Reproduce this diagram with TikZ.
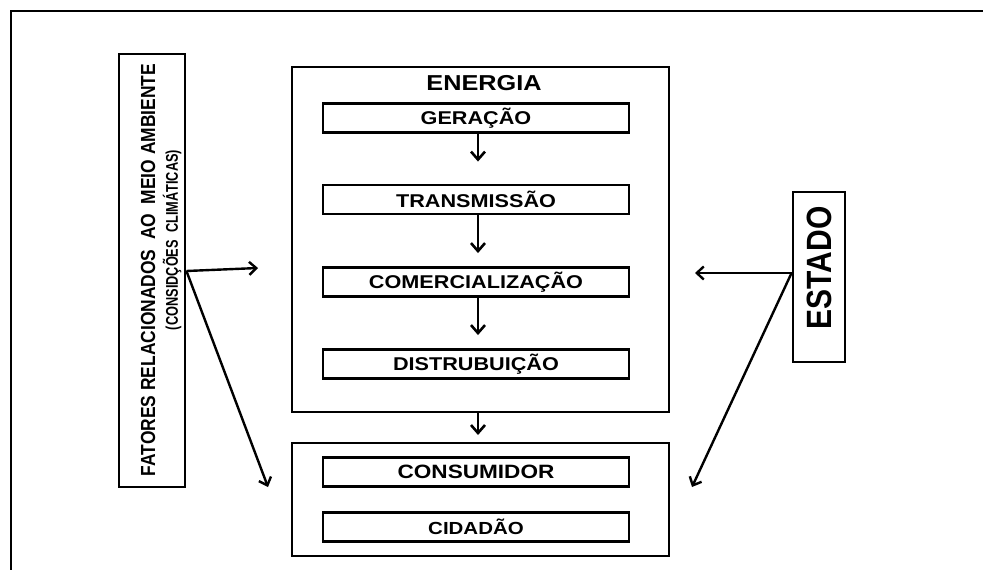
\documentclass[tikz,border=0pt]{standalone}
\usepackage{fontspec}
\setmainfont{Liberation Sans}
\usetikzlibrary{arrows.meta}
\newcommand{\hs}[1]{\scalebox{1.17}[1]{#1}}
\begin{document}
\begin{tikzpicture}[x=1pt,y=-1pt,
  box/.style={draw,line width=2.9pt,inner sep=0pt,font=\bfseries},
  inbox/.style={box,minimum width=306pt,minimum height=29pt,font=\fontsize{18.5}{20}\selectfont\bfseries},
  arr/.style={line width=2.8pt,-{Straight Barb[length=8pt,width=14pt,line width=2.6pt]}},
  sarr/.style={line width=2.4pt,-{Straight Barb[length=7pt,width=13pt,line width=2.4pt]}}]
\useasboundingbox (0,0) rectangle (983,570);
% outer frame (only top and left visible)
\coordinate (o1) at (11,575);
\coordinate (o2) at (11,11);
\coordinate (o3) at (990,11);
\draw[line width=2.9pt] (o1) -- (o2) -- (o3);
% side boxes
\node[box,minimum width=66pt,minimum height=433pt] (fat) at (152,270.5) {};
\node[rotate=90,inner sep=0pt,font=\fontsize{17.4}{18}\selectfont\bfseries] (fat1) at (148,270) {\scalebox{1}[1.17]{FATORES RELACIONADOS\ \ AO\ \ MEIO AMBIENTE}};
\node[rotate=90,inner sep=0pt,font=\fontsize{14.5}{15}\selectfont\bfseries] (fat2) at (172,240) {\scalebox{0.88}[1.17]{(CONSIDÇÕES\ \ CLIMÁTICAS)}};
\node[box,minimum width=52pt,minimum height=170pt] (est) at (819,277) {};
\node[rotate=90,inner sep=0pt,font=\fontsize{30}{32}\selectfont\bfseries] (estt) at (819,268) {\scalebox{1}[1.17]{ESTADO}};
% energia block
\node[box,minimum width=377pt,minimum height=345pt] (en) at (480.5,239.5) {};
\node[font=\fontsize{21.6}{23}\selectfont\bfseries] (ent) at (484,83) {\hs{ENERGIA}};
\node[inbox] (ger) at (476,118) {\hs{GERAÇÃO}};
\node[inbox] (tra) at (476,199.5) {\hs{TRANSMISSÃO}};
\node[inbox] (com) at (476,282) {\hs{COMERCIALIZAÇÃO}};
\node[inbox] (dis) at (476,364) {\hs{DISTRUBUIÇÃO}};
% bottom block
\node[box,minimum width=377pt,minimum height=113pt] (bot) at (480.5,499.5) {};
\node[inbox,font=\fontsize{19.3}{21}\selectfont\bfseries] (con) at (476,472) {\hs{CONSUMIDOR}};
\node[inbox,font=\fontsize{17.5}{21}\selectfont\bfseries] (cid) at (476,527) {\hs{CIDADÃO}};
% vertical arrows
\draw[arr,shorten >=22pt] ([xshift=2pt]ger.south) -- ([xshift=2pt]tra.north);
\draw[arr,shorten >=13pt] ([xshift=2pt]tra.south) -- ([xshift=2pt]com.north);
\draw[arr,shorten >=13pt] ([xshift=2pt]com.south) -- ([xshift=2pt]dis.north);
\coordinate (ea) at (478,412);
\coordinate (eb) at (478,443);
\draw[arr,shorten >=8pt] (ea) -- (eb);
% side arrows
\coordinate (fs) at (fat.east |- 0,271);
\coordinate (fe1) at (258,268);
\coordinate (fe2) at (268,487);
\draw[sarr] (fs) -- (fe1);
\draw[sarr] (fs) -- (fe2);
\coordinate (es) at (est.west |- 0,273);
\coordinate (ee1) at (695,273);
\coordinate (ee2) at (692,487);
\draw[sarr] (es) -- (ee1);
\draw[sarr] (es) -- (ee2);
\end{tikzpicture}
\end{document}
